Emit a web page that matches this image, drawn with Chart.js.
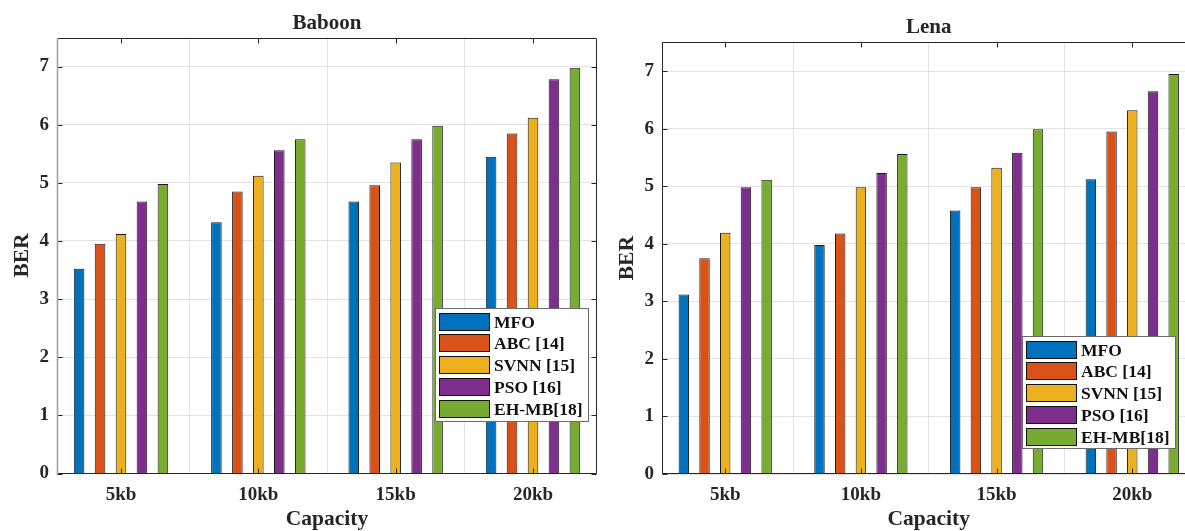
<!DOCTYPE html>
<html><head><meta charset="utf-8">
<script src="https://cdn.jsdelivr.net/npm/chart.js@4/dist/chart.umd.min.js"></script>
<style>
html,body{margin:0;padding:0;background:#fff;width:1185px;height:531px;overflow:hidden;}
.wrap{position:absolute;top:0;height:531px;overflow:hidden;}
canvas{display:block;}
</style></head><body>
<div class="wrap" style="left:0;width:600px"><canvas id="c1" width="600" height="531"></canvas></div>
<div class="wrap" style="left:605px;width:580px"><canvas id="c2" width="600" height="531"></canvas></div>
<script>
// ---- data ----
const categories = ['5kb', '10kb', '15kb', '20kb'];
const seriesNames = ['MFO', 'ABC [14]', 'SVNN [15]', 'PSO [16]', 'EH-MB[18]'];
const seriesColors = ['#0072BD', '#D95319', '#EDB120', '#7E2F8E', '#77AC30'];
const yTickValues = [0, 1, 2, 3, 4, 5, 6, 7];

const baboonMFO  = [3.52, 4.32, 4.68, 5.45];
const baboonABC  = [3.95, 4.85, 4.96, 5.85];
const baboonSVNN = [4.12, 5.12, 5.35, 6.12];
const baboonPSO  = [4.68, 5.56, 5.75, 6.78];
const baboonEHMB = [4.98, 5.75, 5.98, 6.98];

const lenaMFO  = [3.12, 3.98, 4.58, 5.12];
const lenaABC  = [3.75, 4.18, 4.98, 5.95];
const lenaSVNN = [4.19, 4.98, 5.32, 6.32];
const lenaPSO  = [4.98, 5.23, 5.58, 6.65];
const lenaEHMB = [5.11, 5.56, 5.99, 6.95];

const FONT = "'Liberation Serif', 'Times New Roman', serif";
const TXT = '#262626';

const axesBox = {
  id: 'axesBox',
  afterDatasetsDraw(chart, args, opts) {
    const {ctx, chartArea: a, scales: {x, y}} = chart;
    ctx.save();
    ctx.strokeStyle = TXT; ctx.lineWidth = 1;
    const L = Math.round(a.left) + 0.5, R = Math.round(a.right) - 0.5;
    const T = Math.round(a.top) + 0.5, B = Math.round(a.bottom) - 0.5;
    ctx.beginPath();
    ctx.moveTo(L, T); ctx.lineTo(R, T); ctx.lineTo(R, B); ctx.lineTo(L, B);
    if (!opts.leftColor) ctx.lineTo(L, T);
    const tl = 5;
    y.ticks.forEach(t => {
      const py = Math.round(y.getPixelForValue(t.value)) + 0.5;
      ctx.moveTo(L, py); ctx.lineTo(L + tl, py);
      ctx.moveTo(R, py); ctx.lineTo(R - tl, py);
    });
    x.ticks.forEach(t => {
      const px = Math.round(x.getPixelForValue(t.value)) + 0.5;
      ctx.moveTo(px, B); ctx.lineTo(px, B - tl);
      ctx.moveTo(px, T); ctx.lineTo(px, T + tl);
    });
    ctx.stroke();
    if (opts.leftColor) {
      ctx.beginPath();
      ctx.strokeStyle = opts.leftColor; ctx.lineWidth = 1.6;
      ctx.moveTo(L, T - 0.5); ctx.lineTo(L, B + 0.5);
      ctx.stroke();
    }

    // legend inside the axes
    ctx.lineWidth = 1;
    const w = opts.width, h = opts.height;
    const bx = Math.round(a.right - opts.right - w) + 0.5;
    const by = Math.round(a.bottom - opts.bottom - h) + 0.5;
    ctx.fillStyle = '#fff';
    ctx.fillRect(bx, by, w, h);
    ctx.strokeStyle = '#6b6b6b';
    ctx.strokeRect(bx, by, w, h);
    ctx.font = 'bold 17.5px ' + FONT;
    ctx.textBaseline = 'middle';
    ctx.textAlign = 'left';
    chart.data.datasets.forEach((ds, i) => {
      const sy = Math.round(by + 4 + i * 21.9) + 0.5;
      ctx.fillStyle = ds.backgroundColor;
      ctx.fillRect(bx + 4, sy, 50, 17);
      ctx.strokeStyle = '#111';
      ctx.strokeRect(bx + 4, sy, 50, 17);
      ctx.fillStyle = '#111';
      ctx.fillText(ds.label, bx + 58.5, sy + 9.5);
    });
    ctx.restore();
  }
};

function makeChart(id, title, series, lay) {
  const datasets = series.map((vals, i) => ({
    label: seriesNames[i],
    data: vals.map((v, j) => ({x: j + 1, y: v})),
    backgroundColor: seriesColors[i],
    borderColor: '#1a1a1a',
    borderWidth: 1,
    categoryPercentage: 0.763,
    barPercentage: 0.505
  }));
  return new Chart(document.getElementById(id), {
    type: 'bar',
    data: {datasets},
    plugins: [axesBox],
    options: {
      responsive: false,
      animation: false,
      devicePixelRatio: 1,
      layout: {padding: {left: 0, right: lay.padRight, top: 0, bottom: 0}},
      plugins: {
        legend: {display: false},
        tooltip: {enabled: false},
        title: {
          display: true, text: title, fullSize: false, color: TXT,
          font: {family: FONT, size: 21, weight: 'bold', lineHeight: 1.2},
          padding: {top: lay.titleTop, bottom: lay.titleBottom}
        },
        axesBox: lay.legend
      },
      scales: {
        x: {
          type: 'linear', min: 0.534, max: 4.466, offset: false,
          afterBuildTicks: s => { s.ticks = categories.map((c, i) => ({value: i + 1})); },
          afterFit: s => { s.height = lay.xHeight; },
          ticks: {
            callback: v => categories[Math.round(v) - 1],
            color: TXT, padding: 10, maxRotation: 0, autoSkip: false,
            font: {family: FONT, size: 19, weight: 'bold'}
          },
          grid: {color: '#e3e3e3', drawTicks: false, lineWidth: 1},
          border: {display: false},
          title: {
            display: true, text: 'Capacity', color: TXT,
            font: {family: FONT, size: 21.5, weight: 'bold', lineHeight: 1.2},
            padding: {top: 0, bottom: -1}
          }
        },
        y: {
          min: 0, max: 7.5,
          afterBuildTicks: s => { s.ticks = yTickValues.map(v => ({value: v})); },
          afterFit: s => { s.width = 57; },
          ticks: {
            color: TXT, padding: 8,
            font: {family: FONT, size: 19, weight: 'bold'}
          },
          grid: {color: '#e3e3e3', drawTicks: false, lineWidth: 1},
          border: {display: false},
          title: {
            display: true, text: 'BER', color: TXT,
            font: {family: FONT, size: 21.5, weight: 'bold', lineHeight: 1.2},
            padding: {top: 10, bottom: 0}
          }
        }
      }
    }
  });
}

makeChart('c1', 'Baboon',
  [baboonMFO, baboonABC, baboonSVNN, baboonPSO, baboonEHMB],
  {padRight: 3, titleTop: 10.5, titleBottom: 1.8, xHeight: 57.5,
   legend: {right: 9, bottom: 52.5, width: 153, height: 113, leftColor: '#a3a3a3'}});
makeChart('c2', 'Lena',
  [lenaMFO, lenaABC, lenaSVNN, lenaPSO, lenaEHMB],
  {padRight: 9.5, titleTop: 14.8, titleBottom: 2.3, xHeight: 57,
   legend: {right: 21, bottom: 26.3, width: 153, height: 112}});
</script>
</body></html>
